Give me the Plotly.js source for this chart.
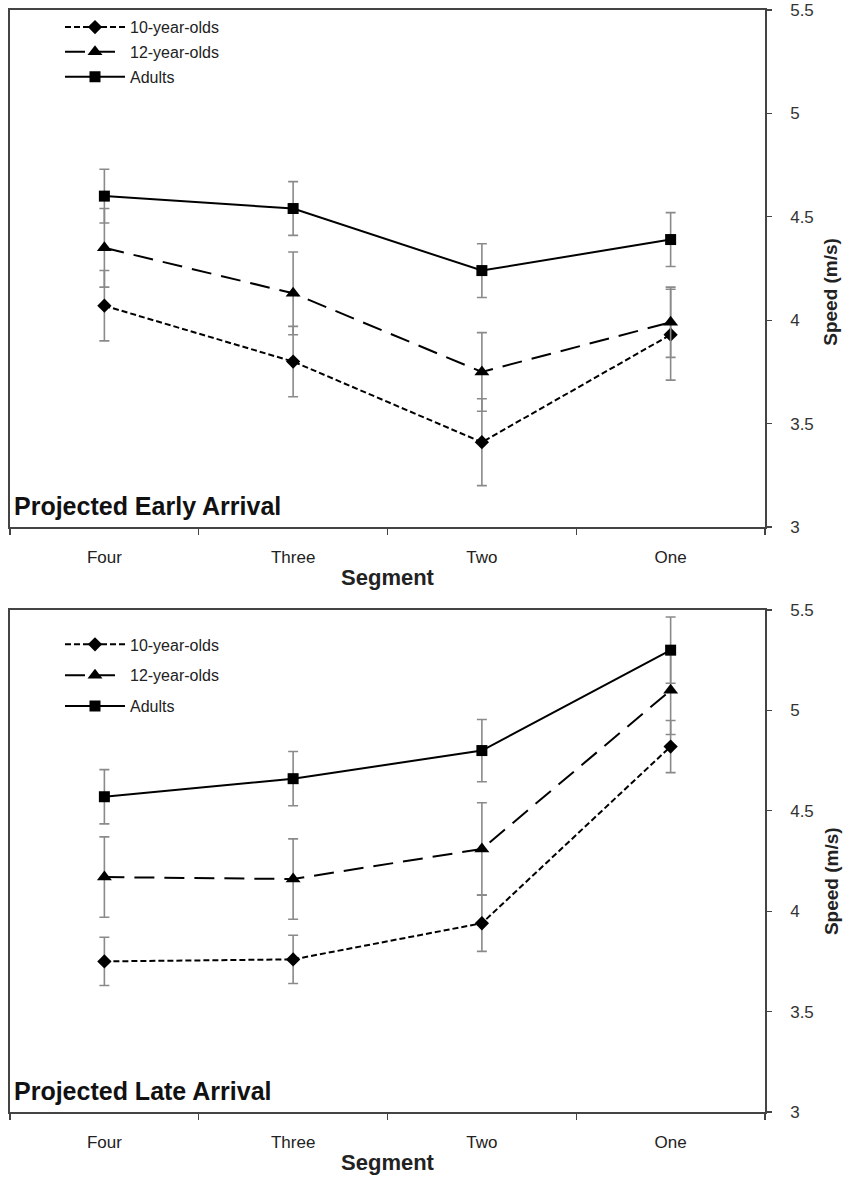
<!DOCTYPE html>
<html>
<head>
<meta charset="utf-8">
<script src="https://cdn.plot.ly/plotly-3.0.1.min.js"></script>
<style>html,body{margin:0;padding:0;background:#fff;}#chart{width:851px;height:1194px;}</style>
</head>
<body>
<div id="chart"></div>
<script>
// Data
const segments = ["Four", "Three", "Two", "One"];
const seriesNames = ["10-year-olds", "12-year-olds", "Adults"];

// Projected Early Arrival (top panel)
const early10 = [4.07, 3.80, 3.41, 3.93];
const early10Err = [0.17, 0.17, 0.21, 0.22];
const early12 = [4.35, 4.13, 3.75, 3.99];
const early12Err = [0.19, 0.20, 0.19, 0.17];
const earlyAdults = [4.60, 4.54, 4.24, 4.39];
const earlyAdultsErr = [0.13, 0.13, 0.13, 0.13];

// Projected Late Arrival (bottom panel)
const late10 = [3.75, 3.76, 3.94, 4.82];
const late10Err = [0.12, 0.12, 0.14, 0.13];
const late12 = [4.17, 4.16, 4.31, 5.10];
const late12Err = [0.20, 0.20, 0.23, 0.22];
const lateAdults = [4.57, 4.66, 4.80, 5.30];
const lateAdultsErr = [0.135, 0.135, 0.155, 0.165];

const yTickVals = [3, 3.5, 4, 4.5, 5, 5.5];
const yTickText = ["3", "3.5", "4", "4.5", "5", "5.5"];

const styles = [
  {dash: "6px,3px", symbol: "diamond", size: 11},
  {dash: "20px,10px", symbol: "triangle-up", size: 13},
  {dash: "solid", symbol: "square", size: 11}
];

function mk(vals, errs, i, xa, ya, leg) {
  return {
    type: "scatter", mode: "lines+markers",
    x: segments, y: vals, name: seriesNames[i],
    xaxis: xa, yaxis: ya, legend: leg, legendgroup: leg + "_" + i,
    line: {color: "#000", width: 2, dash: styles[i].dash},
    marker: {color: "#000", symbol: styles[i].symbol, size: styles[i].size},
    error_y: {type: "data", array: errs, visible: true, color: "#8a8a8a", thickness: 1.6, width: 5}
  };
}

const traces = [
  mk(early10, early10Err, 0, "x", "y", "legend"),
  mk(early12, early12Err, 1, "x", "y", "legend"),
  mk(earlyAdults, earlyAdultsErr, 2, "x", "y", "legend"),
  mk(late10, late10Err, 0, "x2", "y2", "legend2"),
  mk(late12, late12Err, 1, "x2", "y2", "legend2"),
  mk(lateAdults, lateAdultsErr, 2, "x2", "y2", "legend2")
];

const W = 851, H = 1194;
const xDom = [10 / W, 765 / W];
const yDomTop = [(H - 527) / H, (H - 10) / H];
const yDomBot = [(H - 1112) / H, (H - 610) / H];

const lineCol = "#444";
const sans = "'Liberation Sans', Arial, Helvetica, sans-serif";

function xAxis(dom, anchor) {
  return {
    domain: dom, anchor: anchor, type: "category", range: [-0.5, 3.5],
    tickson: "boundaries", ticks: "outside", ticklen: 6, tickwidth: 1.2, tickcolor: lineCol,
    showline: true, linecolor: lineCol, linewidth: 1.8, mirror: true,
    showgrid: false, zeroline: false,
    tickfont: {family: sans, size: 17, color: "#222"},
    ticklabelstandoff: 14,
    title: {text: "<b>Segment</b>", font: {family: sans, size: 22, color: "#222"}, standoff: 3}
  };
}
function yAxis(dom, anchor) {
  return {
    domain: dom, anchor: anchor, side: "right", range: [3, 5.5],
    tickvals: yTickVals, ticktext: yTickText,
    ticks: "outside", ticklen: 5, tickwidth: 1.2, tickcolor: lineCol,
    showline: true, linecolor: lineCol, linewidth: 1.8, mirror: true,
    showgrid: false, zeroline: false,
    tickfont: {family: sans, size: 17, color: "#333"},
    ticklabelstandoff: 15
  };
}

const legendBase = {
  bgcolor: "rgba(0,0,0,0)", borderwidth: 0,
  font: {family: sans, size: 16, color: "#222"},
  traceorder: "grouped", itemwidth: 60,
  xanchor: "left", yanchor: "top"
};

const layout = {
  width: W, height: H,
  margin: {l: 0, r: 0, t: 0, b: 0},
  paper_bgcolor: "#fff", plot_bgcolor: "#fff",
  showlegend: true,
  xaxis: xAxis(xDom, "y"),
  yaxis: yAxis(yDomTop, "x"),
  xaxis2: xAxis(xDom, "y2"),
  yaxis2: yAxis(yDomBot, "x2"),
  legend: Object.assign({}, legendBase, {x: 0.0705, y: 0.9915, tracegroupgap: 1}),
  legend2: Object.assign({}, legendBase, {x: 0.0705, y: 0.4745, tracegroupgap: 7}),
  annotations: [
    {text: "<b>Projected Early Arrival</b>", xref: "x domain", yref: "y domain", x: 0.003, y: 0.0,
     xanchor: "left", yanchor: "bottom", showarrow: false, yshift: 5,
     font: {family: sans, size: 25, color: "#111"}},
    {text: "<b>Projected Late Arrival</b>", xref: "x2 domain", yref: "y2 domain", x: 0.003, y: 0.0,
     xanchor: "left", yanchor: "bottom", showarrow: false, yshift: 5,
     font: {family: sans, size: 25, color: "#111"}},
    {text: "<b>Speed (m/s)</b>", xref: "paper", yref: "y domain", x: 831 / W, y: 0.455,
     xanchor: "center", yanchor: "middle", textangle: -90, showarrow: false,
     font: {family: sans, size: 19, color: "#222"}},
    {text: "<b>Speed (m/s)</b>", xref: "paper", yref: "y2 domain", x: 831 / W, y: 0.46,
     xanchor: "center", yanchor: "middle", textangle: -90, showarrow: false,
     font: {family: sans, size: 19, color: "#222"}}
  ]
};

Plotly.newPlot("chart", traces, layout, {staticPlot: true, displayModeBar: false});
</script>
</body>
</html>
